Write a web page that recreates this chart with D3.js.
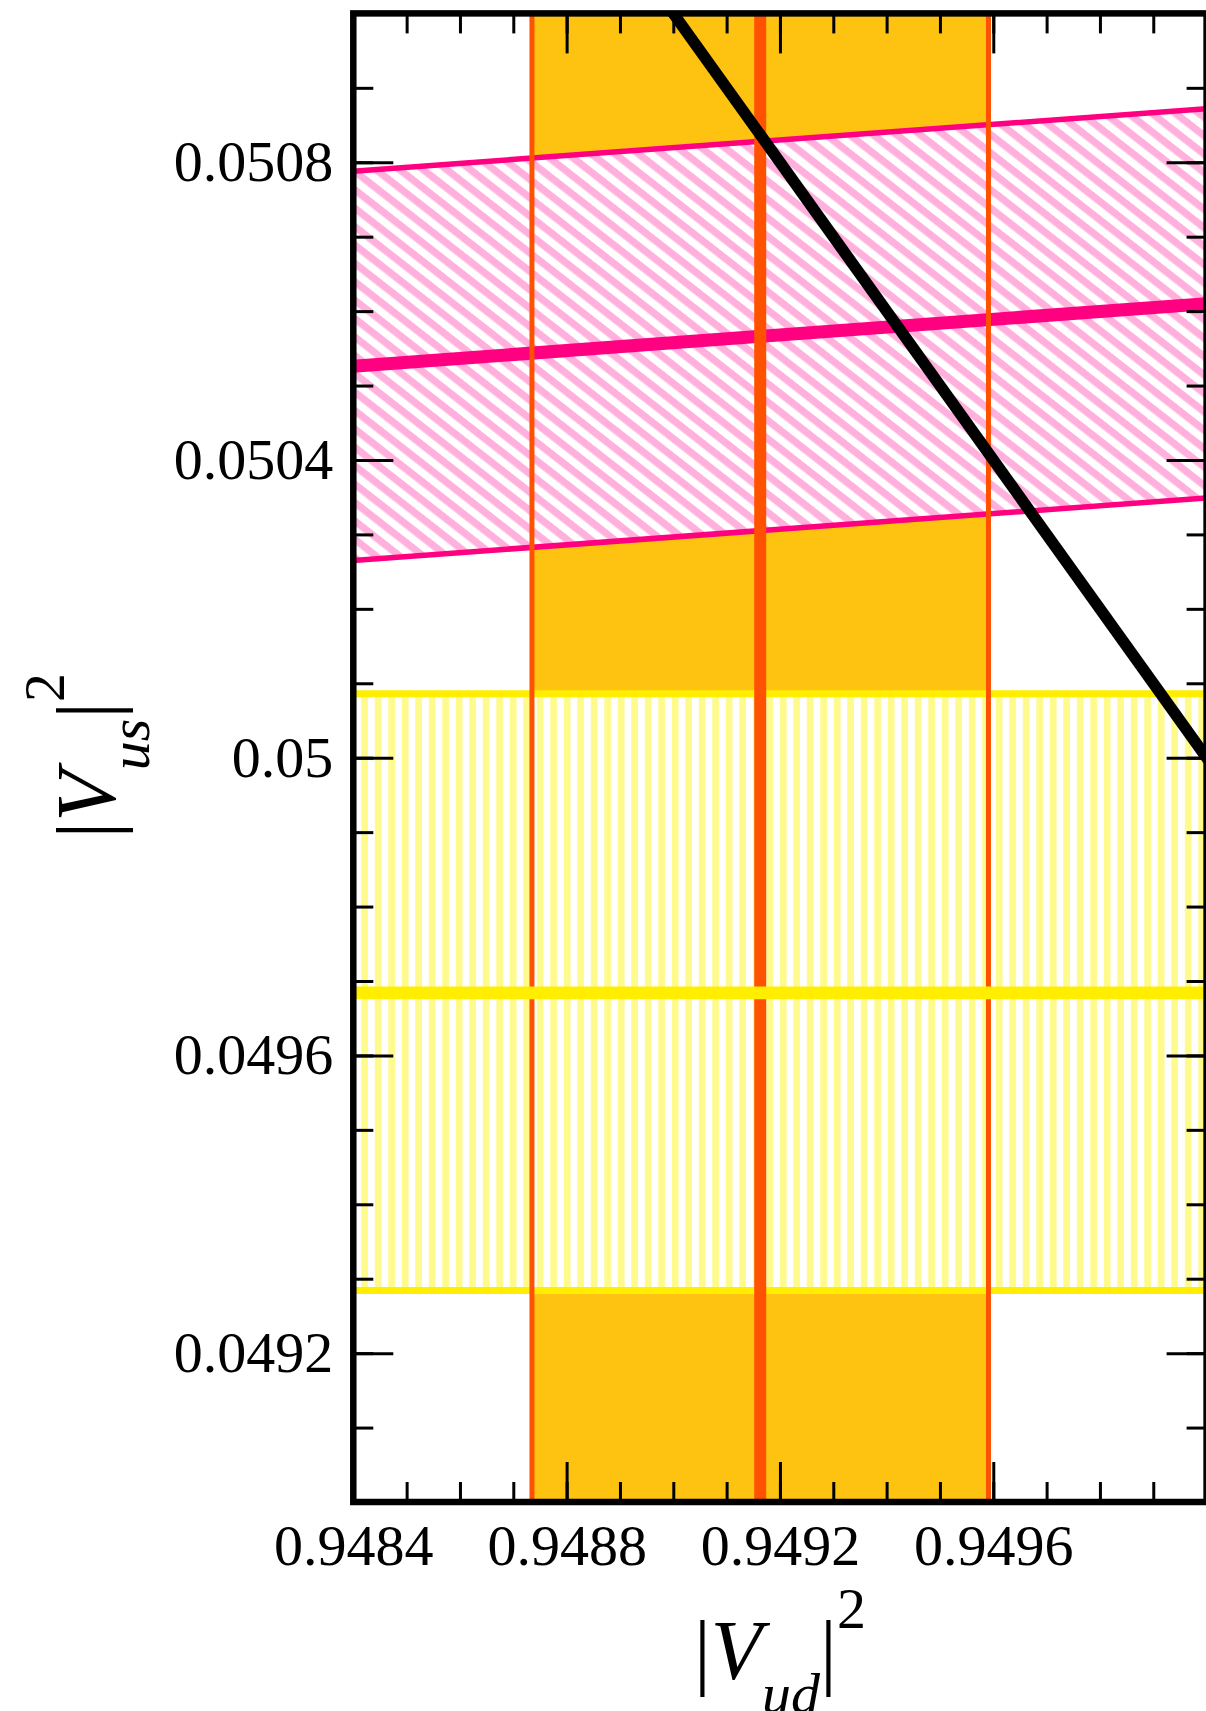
<!DOCTYPE html>
<html>
<head>
<meta charset="utf-8">
<script src="https://cdn.jsdelivr.net/npm/d3@7"></script>
<style>
  html, body { margin: 0; padding: 0; background: #fff; }
  svg { display: block; }
  text { font-family: "Liberation Serif", "DejaVu Serif", serif; fill: #000; }
</style>
</head>
<body>
<svg id="chart" width="1206" height="1711"></svg>
<script>
// ---- data ----
const xDomain = [0.9484, 0.9500];            // |Vud|^2 axis range
const yDomain = [0.0490, 0.0510];            // |Vus|^2 axis range
const xTickLabels = [0.9484, 0.9488, 0.9492, 0.9496];
const yTickLabels = [0.0492, 0.0496, 0.0500, 0.0504, 0.0508];

// vertical (orange) band: |Vud|^2 low, central, high
const vudBand = [0.948735, 0.949163, 0.949591];
// horizontal (yellow) band: |Vus|^2 low, central, high
const vusBand = [0.049284, 0.049684, 0.050086];
// sloped (pink) band: |Vus|^2 at the two ends of the |Vud|^2 range
const ratioX    = [0.9484, 0.9500];
const ratioLow  = [0.050265, 0.050349];
const ratioMid  = [0.050526, 0.050610];
const ratioHigh = [0.050788, 0.050872];
// unitarity line |Vud|^2 + |Vus|^2 = 1
const unitarityX = [0.9489, 0.9501];
const unitarityY = [0.0511, 0.0499];

// ---- layout ----
const L = 353.3, R = 1206.6, T = 13.4, B = 1502;
const svg = d3.select("#chart");
const x = d3.scaleLinear().domain(xDomain).range([L, R]);
const y = d3.scaleLinear().domain(yDomain).range([B, T]);

const defs = svg.append("defs");
defs.append("clipPath").attr("id", "plotclip")
  .append("rect").attr("x", L).attr("y", T).attr("width", R - L).attr("height", B - T);

const vp = defs.append("pattern").attr("id", "vstripes")
  .attr("patternUnits", "userSpaceOnUse").attr("x", 10.3).attr("y", 0)
  .attr("width", 13.5).attr("height", 20);
vp.append("rect").attr("width", 13.5).attr("height", 20).attr("fill", "#fff");
vp.append("rect").attr("width", 6.7).attr("height", 20).attr("fill", "#FFFA8C");

const dp = defs.append("pattern").attr("id", "dstripes")
  .attr("patternUnits", "userSpaceOnUse").attr("width", 20).attr("height", 14.5)
  .attr("patternTransform", "rotate(38)");
dp.append("rect").attr("width", 20).attr("height", 14.5).attr("fill", "#fff");
dp.append("rect").attr("width", 20).attr("height", 7.25).attr("fill", "#FFB0DC");

const plot = svg.append("g").attr("clip-path", "url(#plotclip)");

// orange band fill
plot.append("rect")
  .attr("x", x(vudBand[0])).attr("width", x(vudBand[2]) - x(vudBand[0]))
  .attr("y", T).attr("height", B - T).attr("fill", "#FEC311");

// yellow hatched band
plot.append("rect")
  .attr("x", L).attr("width", R - L)
  .attr("y", y(vusBand[2])).attr("height", y(vusBand[0]) - y(vusBand[2]))
  .attr("fill", "url(#vstripes)");
[vusBand[0], vusBand[2]].forEach(v => {
  plot.append("line").attr("x1", L).attr("x2", R).attr("y1", y(v)).attr("y2", y(v))
    .attr("stroke", "#FFEE00").attr("stroke-width", 7);
});

// pink hatched sloped band
const ratioPts = ratioX.map((vx, i) => ({x: vx, lo: ratioLow[i], mid: ratioMid[i], hi: ratioHigh[i]}));
plot.append("path").datum(ratioPts)
  .attr("d", d3.area().x(d => x(d.x)).y0(d => y(d.lo)).y1(d => y(d.hi)))
  .attr("fill", "url(#dstripes)");
const pl = key => d3.line().x(d => x(d.x)).y(d => y(d[key]));
plot.append("path").datum(ratioPts).attr("d", pl("lo")).attr("fill", "none")
  .attr("stroke", "#FF0080").attr("stroke-width", 5.5);
plot.append("path").datum(ratioPts).attr("d", pl("hi")).attr("fill", "none")
  .attr("stroke", "#FF0080").attr("stroke-width", 5.5);
plot.append("path").datum(ratioPts).attr("d", pl("mid")).attr("fill", "none")
  .attr("stroke", "#FF0080").attr("stroke-width", 13);

// orange lines
[[vudBand[0], 5], [vudBand[2], 5], [vudBand[1], 12]].forEach(([v, w]) => {
  plot.append("line").attr("x1", x(v)).attr("x2", x(v)).attr("y1", T).attr("y2", B)
    .attr("stroke", "#FF5200").attr("stroke-width", w);
});

// yellow central line
plot.append("line").attr("x1", L).attr("x2", R)
  .attr("y1", y(vusBand[1])).attr("y2", y(vusBand[1]))
  .attr("stroke", "#FFEE00").attr("stroke-width", 12.6);

// unitarity line
const uPts = unitarityX.map((vx, i) => [vx, unitarityY[i]]);
plot.append("path").datum(uPts)
  .attr("d", d3.line().x(d => x(d[0])).y(d => y(d[1])))
  .attr("fill", "none").attr("stroke", "#000").attr("stroke-width", 11.5);

// ---- axes ----
const tickW = 3;
function styleAxis(g) {
  g.select(".domain").remove();
  g.selectAll(".tick line").attr("stroke", "#000").attr("stroke-width", tickW);
  g.selectAll(".tick text").attr("font-size", 58).style("font-family", '"Liberation Serif", serif');
}
const fmt = d => String(+d.toFixed(4));

// bottom
svg.append("g").attr("transform", `translate(0,${B})`)
  .call(d3.axisBottom(x).ticks(16).tickSize(-20).tickFormat("")).call(styleAxis);
svg.append("g").attr("transform", `translate(0,${B})`)
  .call(d3.axisBottom(x).tickValues(xTickLabels).tickSize(-40).tickPadding(22).tickFormat(fmt))
  .call(styleAxis);
// top
svg.append("g").attr("transform", `translate(0,${T})`)
  .call(d3.axisTop(x).ticks(16).tickSize(-20).tickFormat("")).call(styleAxis);
svg.append("g").attr("transform", `translate(0,${T})`)
  .call(d3.axisTop(x).tickValues(xTickLabels).tickSize(-40).tickFormat("")).call(styleAxis);
// left
svg.append("g").attr("transform", `translate(${L},0)`)
  .call(d3.axisLeft(y).ticks(20).tickSize(-20).tickFormat("")).call(styleAxis);
svg.append("g").attr("transform", `translate(${L},0)`)
  .call(d3.axisLeft(y).tickValues(yTickLabels).tickSize(-40).tickPadding(20).tickFormat(fmt))
  .call(styleAxis);
// right
svg.append("g").attr("transform", `translate(${R},0)`)
  .call(d3.axisRight(y).ticks(20).tickSize(-20).tickFormat("")).call(styleAxis);
svg.append("g").attr("transform", `translate(${R},0)`)
  .call(d3.axisRight(y).tickValues(yTickLabels).tickSize(-40).tickFormat("")).call(styleAxis);

// frame
svg.append("rect").attr("x", L).attr("y", T).attr("width", R - L).attr("height", B - T)
  .attr("fill", "none").attr("stroke", "#000").attr("stroke-width", 6.5);

// ---- axis titles ----
function title(sel, sub) {
  sel.attr("text-anchor", "middle");
  sel.append("tspan").attr("font-size", 84).text("|");
  sel.append("tspan").attr("font-size", 84).attr("font-style", "italic").text("V");
  sel.append("tspan").attr("font-size", 58).attr("font-style", "italic").attr("dy", 34).text(sub);
  sel.append("tspan").attr("font-size", 84).attr("dy", -34).text("|");
  sel.append("tspan").attr("font-size", 58).attr("dy", -51).text("2");
}
svg.append("text").attr("x", (L + R) / 2).attr("y", 1679).call(title, "ud");
svg.append("text").attr("transform", `translate(115,${(T + B) / 2 - 2}) rotate(-90)`).call(title, "us");
</script>
</body>
</html>
